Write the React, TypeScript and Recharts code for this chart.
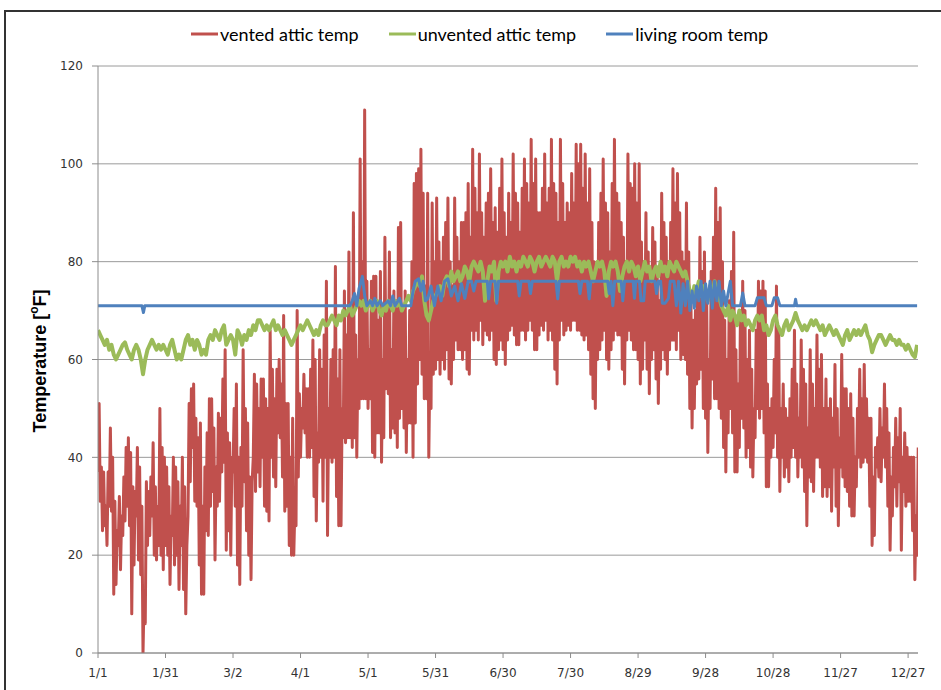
import React from 'react';
import { LineChart, Line, XAxis, YAxis, CartesianGrid, Legend } from 'recharts';

// x positions of the category ticks (day of year) and their labels
const tickDays = [0, 30, 60, 90, 120, 150, 180, 210, 240, 270, 300, 330, 360];
const tickLabels = ['1/1', '1/31', '3/2', '4/1', '5/1', '5/31', '6/30', '7/30', '8/29', '9/28', '10/28', '11/27', '12/27'];
const yTicks = [0, 20, 40, 60, 80, 100, 120];

const seriesNames = ['vented attic temp', 'unvented attic temp', 'living room temp'];
const seriesColors = ['#C0504D', '#9BBB59', '#4F81BD'];

// vented attic temp: daily high (afternoon) for day 0 .. 364
const ventedHigh = [
  51, 38, 37, 30, 37, 46, 40, 31, 25, 32,
  28, 36, 42, 44, 41, 34, 33, 42, 38, 30,
  12, 35, 33, 36, 43, 34, 30, 50, 42, 40,
  38, 34, 28, 40, 38, 35, 30, 40, 34, 22,
  51, 54, 55, 48, 44, 47, 30, 38, 45, 52,
  52, 46, 38, 49, 48, 56, 62, 45, 43, 40,
  50, 55, 40, 42, 62, 50, 47, 36, 35, 57,
  55, 50, 56, 56, 52, 50, 66, 58, 52, 58,
  60, 55, 69, 51, 51, 40, 48, 30, 70, 53,
  50, 57, 54, 54, 58, 64, 60, 45, 62, 58,
  65, 76, 50, 60, 62, 79, 56, 62, 50, 74,
  65, 82, 70, 90, 65, 60, 101, 80, 111, 76,
  62, 76, 77, 77, 68, 78, 60, 85, 70, 82,
  62, 74, 72, 87, 88, 70, 74, 60, 70, 80,
  96, 98, 99, 103, 94, 75, 94, 60, 92, 80,
  93, 84, 80, 85, 88, 93, 80, 75, 93, 85,
  80, 88, 88, 90, 96, 85, 103, 95, 90, 102,
  90, 85, 92, 94, 99, 88, 91, 86, 95, 101,
  90, 85, 94, 88, 102, 94, 92, 86, 95, 101,
  96, 92, 105, 96, 101, 90, 90, 95, 102, 92,
  95, 105, 96, 94, 88, 105, 96, 88, 92, 90,
  98, 92, 104, 100, 104, 95, 102, 92, 99, 88,
  80, 78, 88, 94, 101, 92, 90, 82, 96, 105,
  94, 92, 88, 85, 80, 102, 96, 95, 100, 92,
  100, 84, 80, 90, 82, 76, 87, 84, 78, 72,
  94, 88, 85, 80, 88, 99, 92, 98, 90, 82,
  80, 92, 82, 72, 68, 70, 75, 85, 78, 82,
  72, 60, 78, 85, 95, 88, 91, 80, 68, 60,
  72, 78, 86, 62, 55, 70, 76, 70, 60, 66,
  58, 50, 66, 76, 74, 76, 74, 55, 50, 52,
  60, 75, 66, 50, 55, 50, 48, 52, 58, 66,
  55, 48, 64, 58, 55, 46, 62, 55, 50, 65,
  58, 61, 50, 56, 50, 52, 48, 59, 50, 44,
  61, 54, 54, 50, 53, 48, 40, 50, 58, 52,
  59, 52, 48, 48, 36, 42, 44, 50, 46, 55,
  50, 45, 36, 42, 48, 44, 50, 40, 45, 42,
  40, 40, 40, 28, 42,
];

// vented attic temp: daily low (night) for day 0 .. 364
const ventedLow = [
  37, 31, 25, 26, 22, 30, 29, 12, 14, 22,
  17, 24, 27, 30, 26, 8, 18, 28, 19, 16,
  0, 6, 22, 24, 28, 20, 19, 22, 20, 17,
  22, 20, 14, 24, 18, 20, 13, 22, 13, 8,
  28, 35, 42, 31, 30, 18, 12, 12, 25, 24,
  30, 33, 19, 30, 31, 37, 39, 21, 25, 20,
  37, 30, 18, 14, 30, 35, 25, 20, 15, 40,
  33, 37, 34, 40, 30, 29, 27, 40, 36, 34,
  45, 44, 36, 29, 30, 22, 20, 20, 26, 36,
  40, 46, 45, 40, 40, 42, 32, 27, 39, 40,
  31, 40, 24, 40, 39, 40, 32, 26, 26, 44,
  43, 44, 44, 42, 44, 40, 50, 52, 52, 52,
  50, 52, 41, 40, 45, 45, 39, 44, 54, 53,
  44, 46, 45, 42, 48, 50, 46, 41, 47, 47,
  40, 47, 55, 60, 57, 52, 52, 40, 50, 57,
  58, 60, 57, 60, 58, 62, 56, 55, 60, 64,
  62, 62, 60, 62, 58, 57, 66, 64, 66, 64,
  68, 63, 66, 65, 64, 66, 60, 59, 62, 64,
  62, 59, 64, 66, 67, 65, 63, 63, 66, 66,
  64, 66, 68, 66, 62, 62, 65, 67, 66, 68,
  64, 66, 64, 58, 55, 64, 68, 65, 66, 67,
  66, 68, 68, 66, 66, 65, 64, 65, 62, 57,
  52, 50, 60, 62, 64, 66, 60, 58, 62, 64,
  66, 65, 65, 58, 55, 64, 66, 64, 62, 62,
  60, 55, 58, 64, 58, 53, 60, 62, 56, 51,
  58, 62, 60, 57, 62, 64, 64, 62, 66, 60,
  61, 60, 57, 50, 46, 50, 55, 56, 58, 50,
  48, 41, 50, 56, 52, 52, 50, 48, 42, 37,
  45, 50, 45, 37, 37, 42, 48, 46, 40, 42,
  38, 36, 44, 50, 48, 50, 45, 34, 34, 40,
  42, 45, 40, 33, 40, 36, 38, 35, 40, 42,
  40, 36, 40, 38, 33, 26, 36, 35, 33, 40,
  40, 38, 32, 34, 32, 34, 29, 38, 30, 26,
  38, 36, 34, 33, 30, 28, 28, 34, 40, 38,
  39, 40, 39, 30, 22, 24, 38, 36, 35, 40,
  38, 30, 21, 28, 34, 30, 35, 21, 33, 30,
  31, 31, 25, 15, 20,
];

// unvented attic temp, one reading per day (day 0 .. 364)
const unventedAttic = [
  66, 65, 64, 63, 64, 62, 63, 61, 60, 61,
  62, 63, 63.5, 62, 61, 60, 62, 63, 62, 60,
  57, 60, 62, 63, 64, 63, 62, 63, 62, 63,
  62, 61, 63, 64, 62, 60, 61, 60, 62, 64,
  65, 63, 64, 62, 64, 63, 61, 62, 61, 64,
  65, 64, 66, 65, 64, 66, 67, 63, 64, 65,
  64, 61, 66, 65, 63, 65, 64, 66, 65, 67,
  66, 68, 68, 67, 66, 67, 66, 67, 68, 66,
  67, 66, 65, 66, 65, 64, 63, 64, 65, 66,
  67, 66, 67, 68, 67, 66, 65, 66, 65, 67,
  68, 67, 67, 68, 69, 68, 67, 69, 68, 70,
  69, 70, 71, 69, 70, 71, 72, 71, 72, 70,
  71, 72, 70, 71, 72, 70, 69, 71, 70, 72,
  71, 70, 72, 71, 72, 70, 71, 72, 73, 72,
  74, 75, 76, 75, 77, 72, 69, 68, 70, 72,
  73, 74, 75, 73, 76, 77, 75, 78, 76, 77,
  78, 76, 77, 79, 78, 76, 79, 80, 79, 78,
  80, 78, 72, 76, 79, 78, 80, 72, 78, 80,
  79, 80, 78, 81, 79, 80, 78, 80, 79, 81,
  80, 79, 81, 80, 78, 80, 81, 79, 80, 81,
  80, 79, 81, 80, 76, 80, 81, 79, 80, 79,
  81, 80, 81, 79, 80, 78, 80, 79, 80, 78,
  76, 78, 80, 79, 80, 78, 73, 78, 80, 79,
  80, 78, 74, 77, 79, 80, 78, 80, 79, 77,
  79, 76, 78, 80, 78, 79, 76, 78, 79, 77,
  80, 78, 79, 77, 80, 79, 78, 80, 79, 78,
  77, 78, 76, 74, 72, 75, 74, 76, 73, 75,
  74, 72, 75, 73, 76, 74, 73, 71, 70, 69,
  71, 68, 70, 69, 67, 70, 68, 69, 67, 68,
  67, 66, 68, 69, 68, 69, 66, 67, 65, 66,
  68, 69, 67, 66, 65, 67, 68, 66, 67, 68,
  69.5, 68, 67, 66, 67, 66, 67, 68, 67, 68,
  67, 66, 67, 65, 66, 67, 66, 65, 66, 65,
  64, 63, 65, 66, 64, 65, 66, 65, 66, 65,
  66, 67, 65, 64, 61.5, 63, 64, 65, 65, 64,
  63, 64, 65, 64, 64, 63, 64, 63, 63, 62,
  63, 62, 61, 60.5, 63,
];

// living room temp: readings at the days where it changes
const livingDays = [
  0, 19.5, 20.2, 20.8, 112, 113, 114, 115, 116, 117.5, 118.5, 119.5, 121, 122, 123, 124, 125.5, 126.5,
  129, 130, 131, 132, 134, 135, 139, 140, 141, 142.5, 143.5, 144.5, 145.5, 146.5, 148, 149.5, 151,
  152.5, 154, 155.5, 157, 158.5, 160, 161.5, 163, 164.5, 166, 167, 168, 173, 173.6, 174.5, 176.5,
  177.2, 178, 186.5, 187.2, 188, 191.5, 192.2, 193, 203.5, 204.3, 205, 213.5, 214.2, 215, 217.5,
  218.3, 219, 226.5, 227.2, 228, 228.8, 229.6, 232.5, 233.2, 234, 237.8, 238.4, 239, 240.6, 241.3,
  242.5, 243.2, 247.5, 248.2, 249, 250, 250.8, 252, 253.5, 254.3, 256, 257, 258, 259, 260, 261, 262,
  263, 264, 265, 266, 267, 268, 269, 270, 271, 272, 273, 274, 275, 276, 277, 278, 279, 281, 282,
  285.5, 286.5, 287.5, 292, 293, 296, 297, 299.5, 300.5, 302, 303, 309.5, 310, 310.5, 364,
];
const livingTemps = [
  71, 71, 69.6, 71, 71, 72, 73.5, 71, 74.5, 77, 73, 71, 72, 71, 72.5, 71, 72, 71,
  72, 71, 73, 71, 72.5, 71, 71, 74, 76, 76.5, 74, 76, 72, 72.4, 75, 71, 75,
  72, 76, 76.5, 73, 75, 72, 75.5, 72.5, 76, 76, 74, 76, 76, 72.4, 76, 76,
  71.5, 76, 76, 73, 76, 76, 73.5, 76, 76, 72.4, 76, 76, 73.5, 76, 76,
  72.4, 76, 76, 73.5, 76, 71, 76, 76, 72, 76, 76, 72.5, 76, 76, 72,
  72, 76, 76, 73.5, 76, 76, 71.5, 71.5, 72.5, 76, 76, 71, 76, 69.5, 75.5, 71, 76,
  70, 74, 70.5, 75, 72, 76, 70, 75.5, 71.5, 76, 70.5, 76, 72, 76, 71, 74, 71, 76, 71,
  71, 73.6, 71, 71, 72.6, 72.6, 71, 71, 72.6, 72.6, 71, 71, 72.3, 71, 71,
];

// night low at the start of each day, afternoon high half a day later
const ventedData = ventedLow.flatMap((lo, i) => [
  { day: i, temp: lo },
  { day: i + 0.5, temp: ventedHigh[i] },
]);
const unventedData = unventedAttic.map((t, i) => ({ day: i, temp: t }));
const livingData = livingDays.map((d, i) => ({ day: d, temp: livingTemps[i] }));

const LegendContent = () => (
  <div
    style={{
      display: 'flex',
      alignItems: 'center',
      fontFamily: 'Lato, sans-serif',
      fontSize: 18,
      color: '#000',
      whiteSpace: 'nowrap',
    }}
  >
    {seriesNames.map((n, i) => (
      <div key={n} style={{ display: 'flex', alignItems: 'center', marginRight: 30 }}>
        <svg width={27} height={4} style={{ display: 'block' }}>
          <line x1={0} y1={2} x2={27} y2={2} stroke={seriesColors[i]} strokeWidth={3} />
        </svg>
        <span style={{ marginLeft: 2 }}>{n}</span>
      </div>
    ))}
  </div>
);

const YLabel = () => (
  <text
    x={40}
    y={361}
    transform="rotate(-90 40 361)"
    textAnchor="middle"
    dominantBaseline="central"
    fill="#000"
    style={{ fontFamily: 'Liberation Sans, Arial, sans-serif', fontWeight: 'bold', fontSize: 18 }}
  >
    Temperature [<tspan dy={-6} fontSize={12}>o</tspan>
    <tspan dy={6}>F]</tspan>
  </text>
);

export default function App() {
  const tickStyle = { fill: '#333', fontSize: 12, fontFamily: 'DejaVu Sans, sans-serif' };
  return (
    <div
      style={{
        position: 'absolute',
        left: 0,
        top: 0,
        width: 941,
        height: 690,
        background: '#fff',
        overflow: 'hidden',
      }}
    >
      <div
        style={{
          position: 'absolute',
          left: 4,
          top: 10,
          width: 1000,
          height: 1000,
          borderLeft: '2px solid #333',
          borderTop: '2px solid #333',
        }}
      />
      <div style={{ position: 'absolute', left: 0, top: 0 }}>
        <LineChart width={941} height={690} margin={{ top: 66, right: 23, bottom: 7, left: 38 }}>
          <CartesianGrid vertical={false} stroke="#9a9a9a" />
          <XAxis
            type="number"
            dataKey="day"
            domain={[0, 364.4]}
            ticks={tickDays}
            interval={0}
            allowDataOverflow
            tickFormatter={(v: number) => tickLabels[tickDays.indexOf(v)] ?? ''}
            tickSize={5}
            tickMargin={10}
            height={30}
            stroke="#8c8c8c"
            tick={tickStyle}
          />
          <YAxis
            type="number"
            domain={[0, 120]}
            ticks={yTicks}
            interval={0}
            allowDataOverflow
            tickSize={6}
            tickMargin={9}
            width={60}
            stroke="#8c8c8c"
            tick={tickStyle}
            label={<YLabel />}
          />
          <Legend
            verticalAlign="middle"
            align="center"
            layout="horizontal"
            content={<LegendContent />}
            wrapperStyle={{ top: 23, left: 191, width: 740, height: 22 }}
          />
          <Line
            data={ventedData}
            dataKey="temp"
            name={seriesNames[0]}
            stroke={seriesColors[0]}
            strokeWidth={3}
            dot={false}
            activeDot={false}
            strokeLinejoin="round"
            isAnimationActive={false}
          />
          <Line
            data={unventedData}
            dataKey="temp"
            name={seriesNames[1]}
            stroke={seriesColors[1]}
            strokeWidth={4}
            dot={false}
            activeDot={false}
            strokeLinejoin="round"
            isAnimationActive={false}
          />
          <Line
            data={livingData}
            dataKey="temp"
            name={seriesNames[2]}
            stroke={seriesColors[2]}
            strokeWidth={3}
            dot={false}
            activeDot={false}
            strokeLinejoin="round"
            isAnimationActive={false}
          />
        </LineChart>
      </div>
    </div>
  );
}
